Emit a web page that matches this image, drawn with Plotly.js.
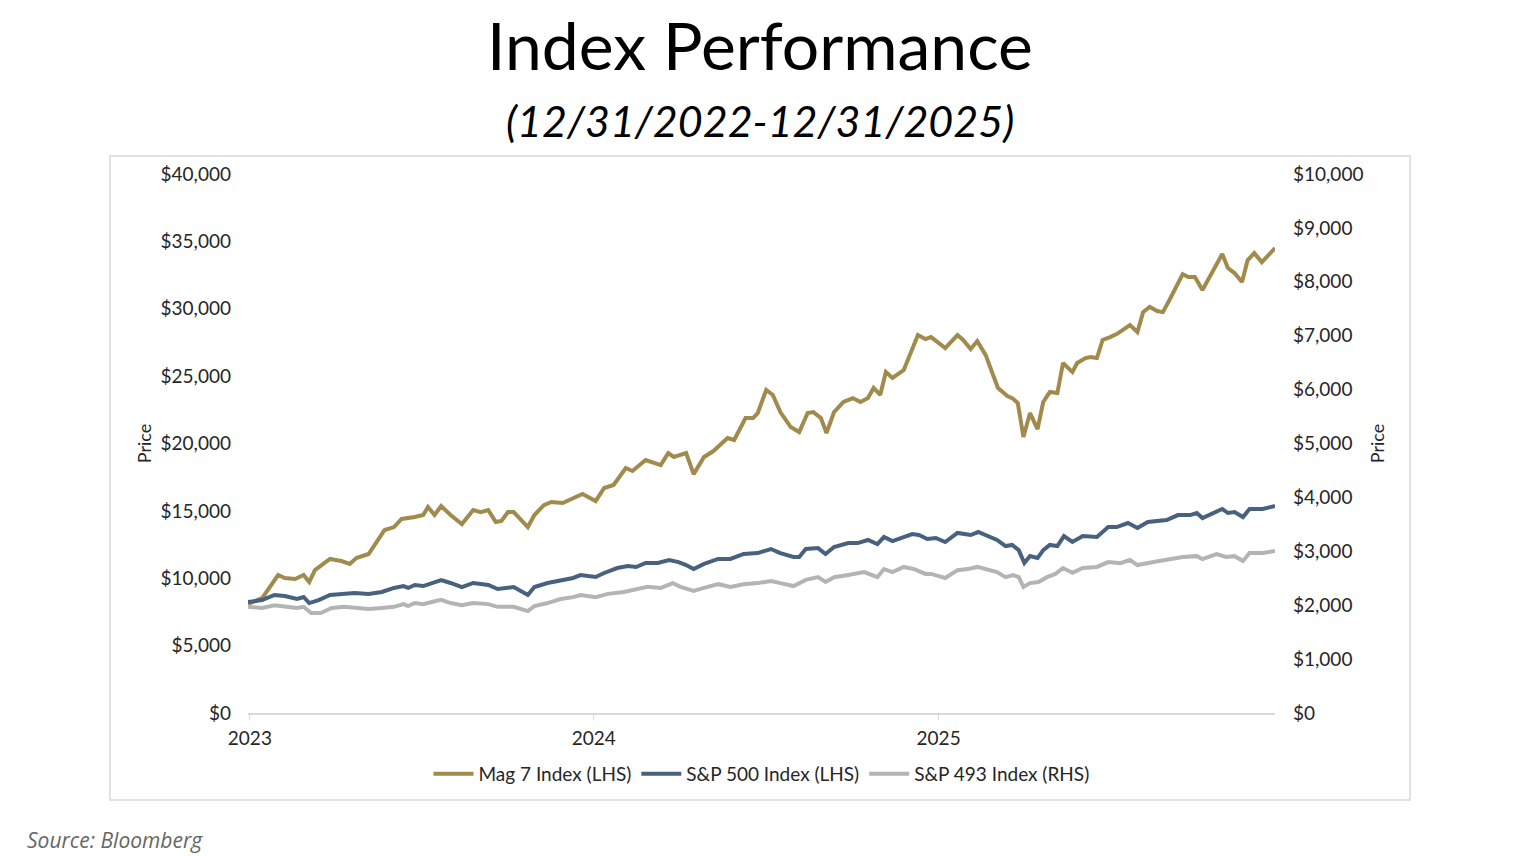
<!DOCTYPE html>
<html>
<head>
<meta charset="utf-8">
<script src="https://cdn.plot.ly/plotly-3.0.1.min.js"></script>
<style>
  html, body { margin: 0; padding: 0; background: #ffffff; }
  #chart { width: 1520px; height: 856px; }
</style>
</head>
<body>
<div id="chart"></div>
<script>
// Mag 7 Index (LHS)
var mag7Dates = [
  "2022-12-30", "2023-01-14", "2023-01-31", "2023-02-07", "2023-02-18", "2023-02-27", "2023-03-05", "2023-03-11",
  "2023-03-27", "2023-04-08", "2023-04-17", "2023-04-24", "2023-05-07", "2023-05-15", "2023-05-24", "2023-06-03",
  "2023-06-11", "2023-06-25", "2023-07-04", "2023-07-09", "2023-07-16", "2023-07-23", "2023-08-02", "2023-08-14",
  "2023-08-26", "2023-09-03", "2023-09-11", "2023-09-19", "2023-09-25", "2023-10-02", "2023-10-08", "2023-10-23",
  "2023-10-30", "2023-11-09", "2023-11-17", "2023-11-29", "2023-12-11", "2023-12-20", "2024-01-03", "2024-01-12",
  "2024-01-22", "2024-02-04", "2024-02-11", "2024-02-25", "2024-03-12", "2024-03-20", "2024-03-26", "2024-04-08",
  "2024-04-16", "2024-04-27", "2024-05-07", "2024-05-22", "2024-05-29", "2024-06-10", "2024-06-18", "2024-06-23",
  "2024-07-02", "2024-07-09", "2024-07-17", "2024-07-28", "2024-08-06", "2024-08-15", "2024-08-21", "2024-08-29",
  "2024-09-04", "2024-09-12", "2024-09-22", "2024-10-02", "2024-10-10", "2024-10-18", "2024-10-24", "2024-10-31",
  "2024-11-06", "2024-11-13", "2024-11-25", "2024-12-02", "2024-12-10", "2024-12-18", "2024-12-24", "2025-01-08",
  "2025-01-21", "2025-01-27", "2025-02-04", "2025-02-11", "2025-02-20", "2025-02-27", "2025-03-05", "2025-03-15",
  "2025-03-20", "2025-03-26", "2025-04-01", "2025-04-08", "2025-04-16", "2025-04-22", "2025-04-29", "2025-05-07",
  "2025-05-13", "2025-05-23", "2025-05-28", "2025-06-06", "2025-06-11", "2025-06-18", "2025-06-24", "2025-07-02",
  "2025-07-09", "2025-07-23", "2025-07-31", "2025-08-06", "2025-08-13", "2025-08-21", "2025-08-27", "2025-09-03",
  "2025-09-17", "2025-09-23", "2025-09-30", "2025-10-08", "2025-10-19", "2025-10-29", "2025-11-04", "2025-11-11",
  "2025-11-19", "2025-11-25", "2025-12-02", "2025-12-10", "2025-12-24"
];
var mag7Values = [
  8090, 8530, 10240, 10020, 9940, 10240, 9720, 10610,
  11430, 11280, 11060, 11500, 11800, 12690, 13580, 13800,
  14400, 14540, 14690, 15290, 14690, 15360, 14690, 14020,
  15060, 14910, 15060, 14170, 14250, 14910, 14910, 13800,
  14690, 15430, 15660, 15580, 15950, 16250, 15730, 16700,
  16920, 18180, 17960, 18770, 18400, 19290, 19000, 19290,
  17730, 19000, 19440, 20410, 20260, 21890, 21890, 22260,
  23970, 23600, 22330, 21220, 20850, 22260, 22330, 21890,
  20780, 22330, 23080, 23370, 23080, 23370, 24120, 23600,
  25300, 24860, 25450, 26710, 28050, 27750, 27900, 27080,
  28050, 27680, 27010, 27600, 26560, 25230, 24120, 23520,
  23370, 23000, 20480, 22260, 21070, 23080, 23820, 23740,
  25970, 25300, 25970, 26340, 26420, 26340, 27680, 27900,
  28120, 28790, 28270, 29750, 30130, 29830, 29750, 30650,
  32570, 32350, 32350, 31390, 32870, 34060, 33020, 32650,
  31980, 33610, 34130, 33460, 34500
];

// S&P 500 Index (LHS)
var spxDates = [
  "2022-12-30", "2023-01-14", "2023-01-27", "2023-02-07", "2023-02-20", "2023-02-27", "2023-03-05", "2023-03-15",
  "2023-03-27", "2023-04-08", "2023-04-22", "2023-05-07", "2023-05-21", "2023-06-03", "2023-06-13", "2023-06-18",
  "2023-06-25", "2023-07-04", "2023-07-13", "2023-07-23", "2023-08-02", "2023-08-14", "2023-08-26", "2023-09-11",
  "2023-09-21", "2023-10-08", "2023-10-23", "2023-10-30", "2023-11-13", "2023-11-27", "2023-12-10", "2023-12-18",
  "2024-01-03", "2024-01-12", "2024-01-26", "2024-02-06", "2024-02-15", "2024-02-25", "2024-03-09", "2024-03-21",
  "2024-03-31", "2024-04-08", "2024-04-16", "2024-04-27", "2024-05-12", "2024-05-25", "2024-06-08", "2024-06-23",
  "2024-07-07", "2024-07-17", "2024-07-31", "2024-08-06", "2024-08-13", "2024-08-26", "2024-09-03", "2024-09-12",
  "2024-09-27", "2024-10-07", "2024-10-18", "2024-10-28", "2024-11-04", "2024-11-13", "2024-11-24", "2024-12-04",
  "2024-12-11", "2024-12-20", "2024-12-29", "2025-01-08", "2025-01-21", "2025-02-04", "2025-02-12", "2025-02-23",
  "2025-03-04", "2025-03-13", "2025-03-20", "2025-03-27", "2025-04-02", "2025-04-08", "2025-04-16", "2025-04-22",
  "2025-04-29", "2025-05-07", "2025-05-14", "2025-05-23", "2025-06-03", "2025-06-18", "2025-06-30", "2025-07-09",
  "2025-07-21", "2025-07-31", "2025-08-11", "2025-08-31", "2025-09-12", "2025-09-25", "2025-10-02", "2025-10-08",
  "2025-10-19", "2025-10-29", "2025-11-04", "2025-11-11", "2025-11-20", "2025-11-27", "2025-12-11", "2025-12-24"
];
var spxValues = [
  8240, 8380, 8760, 8680, 8460, 8610, 8160, 8380,
  8760, 8830, 8900, 8830, 8980, 9280, 9420, 9280,
  9500, 9420, 9650, 9870, 9650, 9350, 9650, 9500,
  9200, 9350, 8760, 9350, 9650, 9870, 10020, 10240,
  10090, 10390, 10760, 10910, 10830, 11130, 11130, 11350,
  11200, 10980, 10680, 11060, 11430, 11430, 11800, 11870,
  12170, 11870, 11580, 11580, 12170, 12240, 11800, 12320,
  12610, 12610, 12840, 12540, 13060, 12760, 13060, 13280,
  13210, 12910, 12990, 12690, 13360, 13210, 13430, 13130,
  12840, 12390, 12470, 12090, 11130, 11650, 11500, 12090,
  12470, 12390, 13130, 12690, 13130, 13060, 13800, 13800,
  14100, 13730, 14170, 14320, 14690, 14690, 14840, 14470,
  14840, 15140, 14840, 14910, 14540, 15140, 15140, 15360
];

// S&P 493 Index (RHS)
var spx493Dates = [
  "2022-12-30", "2023-01-14", "2023-01-27", "2023-02-07", "2023-02-20", "2023-02-27", "2023-03-07", "2023-03-17",
  "2023-03-29", "2023-04-11", "2023-04-22", "2023-05-07", "2023-05-21", "2023-06-03", "2023-06-13", "2023-06-18",
  "2023-06-25", "2023-07-04", "2023-07-13", "2023-07-23", "2023-08-02", "2023-08-14", "2023-08-26", "2023-09-11",
  "2023-09-21", "2023-10-08", "2023-10-23", "2023-10-30", "2023-11-13", "2023-11-27", "2023-12-10", "2023-12-18",
  "2024-01-03", "2024-01-16", "2024-02-02", "2024-02-17", "2024-02-27", "2024-03-12", "2024-03-25", "2024-04-02",
  "2024-04-16", "2024-04-27", "2024-05-12", "2024-05-25", "2024-06-08", "2024-06-23", "2024-07-07", "2024-07-17",
  "2024-07-31", "2024-08-13", "2024-08-26", "2024-09-03", "2024-09-12", "2024-09-27", "2024-10-14", "2024-10-28",
  "2024-11-04", "2024-11-13", "2024-11-25", "2024-12-06", "2024-12-18", "2024-12-24", "2025-01-08", "2025-01-21",
  "2025-02-01", "2025-02-11", "2025-02-22", "2025-03-04", "2025-03-13", "2025-03-21", "2025-03-27", "2025-04-01",
  "2025-04-08", "2025-04-17", "2025-04-26", "2025-05-05", "2025-05-13", "2025-05-23", "2025-06-03", "2025-06-18",
  "2025-06-30", "2025-07-13", "2025-07-23", "2025-07-31", "2025-08-17", "2025-08-31", "2025-09-17", "2025-10-02",
  "2025-10-08", "2025-10-23", "2025-11-02", "2025-11-11", "2025-11-20", "2025-11-27", "2025-12-11", "2025-12-24"
];
var spx493Values = [
  1970, 1950, 2000, 1985, 1950, 1970, 1855, 1855,
  1950, 1970, 1950, 1930, 1950, 1970, 2020, 1985,
  2040, 2020, 2060, 2100, 2040, 2000, 2040, 2020,
  1970, 1970, 1890, 1985, 2040, 2115, 2150, 2190,
  2150, 2210, 2245, 2300, 2340, 2320, 2410, 2340,
  2265, 2320, 2390, 2340, 2390, 2410, 2450, 2410,
  2355, 2470, 2520, 2430, 2520, 2560, 2615, 2520,
  2670, 2615, 2710, 2670, 2580, 2580, 2505, 2650,
  2670, 2710, 2670, 2615, 2520, 2560, 2520, 2340,
  2410, 2430, 2520, 2580, 2690, 2600, 2690, 2710,
  2800, 2780, 2840, 2745, 2800, 2840, 2895, 2910,
  2855, 2950, 2895, 2910, 2820, 2970, 2970, 3005
];

var yearTicks = ["2023-01-01", "2024-01-01", "2025-01-01"]
var yearLabels = ["2023", "2024", "2025"]

var FONT = "Lato, 'Open Sans', sans-serif"

var data = [
  {
    name: "Mag 7 Index (LHS)",
    x: mag7Dates,
    y: mag7Values,
    type: "scatter",
    mode: "lines",
    line: { color: "#a08a4c", width: 4 },
    yaxis: "y"
  },
  {
    name: "S&P 500 Index (LHS)",
    x: spxDates,
    y: spxValues,
    type: "scatter",
    mode: "lines",
    line: { color: "#48617f", width: 4 },
    yaxis: "y"
  },
  {
    name: "S&P 493 Index (RHS)",
    x: spx493Dates,
    y: spx493Values,
    type: "scatter",
    mode: "lines",
    line: { color: "#b4b4b4", width: 4 },
    yaxis: "y2"
  }
]

var layout = {
  width: 1520,
  height: 856,
  margin: { l: 248, r: 245, t: 174, b: 143, pad: 0 },
  paper_bgcolor: "#ffffff",
  plot_bgcolor: "#ffffff",
  font: { family: FONT, size: 19, color: "#262626" },
  showlegend: true,
  title: {
    text: "Index Performance",
    font: { family: FONT, size: 66, color: "#000000" },
    x: 0.5,
    xanchor: "center",
    y: 0.945,
    yanchor: "middle"
  },
  xaxis: {
    type: "date",
    range: ["2022-12-30", "2025-12-24"],
    tickvals: yearTicks,
    ticktext: yearLabels,
    showgrid: false,
    zeroline: false,
    showline: true,
    linecolor: "#d9d9d9",
    linewidth: 1.5,
    ticks: "outside",
    ticklen: 5,
    tickcolor: "#d9d9d9",
    ticklabelstandoff: 2,
    tickfont: { size: 19, color: "#262626" }
  },
  yaxis: {
    range: [0, 40000],
    dtick: 5000,
    tickformat: "$,.0f",
    showgrid: false,
    zeroline: false,
    showline: false,
    ticks: "",
    ticklabelstandoff: 16,
    tickfont: { size: 19, color: "#262626" },
    title: { text: "Price", font: { size: 18, color: "#262626" }, standoff: 4 }
  },
  yaxis2: {
    range: [0, 10000],
    dtick: 1000,
    tickformat: "$,.0f",
    overlaying: "y",
    side: "right",
    showgrid: false,
    zeroline: false,
    showline: false,
    ticks: "",
    ticklabelstandoff: 17,
    tickfont: { size: 19, color: "#262626" },
    title: { text: "Price", font: { size: 18, color: "#262626" }, standoff: 8 }
  },
  legend: {
    orientation: "h",
    x: 0.5,
    xanchor: "center",
    y: -0.113,
    yanchor: "middle",
    font: { size: 19, color: "#262626" },
    itemwidth: 40,
    tracegroupgap: 0
  },
  shapes: [
    {
      type: "rect",
      xref: "paper",
      yref: "paper",
      x0: -0.1344,
      x1: 1.1315,
      y0: -0.1614,
      y1: 1.0334,
      line: { color: "#d9d9d9", width: 1.5 },
      fillcolor: "rgba(0,0,0,0)",
      layer: "below"
    }
  ],
  annotations: [
    {
      text: "<i>(12/31/2022-12/31/2025)</i>",
      xref: "paper",
      yref: "paper",
      x: 0.4985,
      y: 1.1,
      xanchor: "center",
      yanchor: "middle",
      showarrow: false,
      font: { family: FONT, size: 43, color: "#000000" }
    },
    {
      text: "<i>Source: Bloomberg</i>",
      xref: "paper",
      yref: "paper",
      x: -0.2171,
      y: -0.2365,
      xanchor: "left",
      yanchor: "middle",
      showarrow: false,
      font: { family: "'Open Sans', sans-serif", size: 21, color: "#666666" }
    }
  ]
}

Plotly.newPlot("chart", data, layout, { displayModeBar: false, responsive: false })
</script>
</body>
</html>
